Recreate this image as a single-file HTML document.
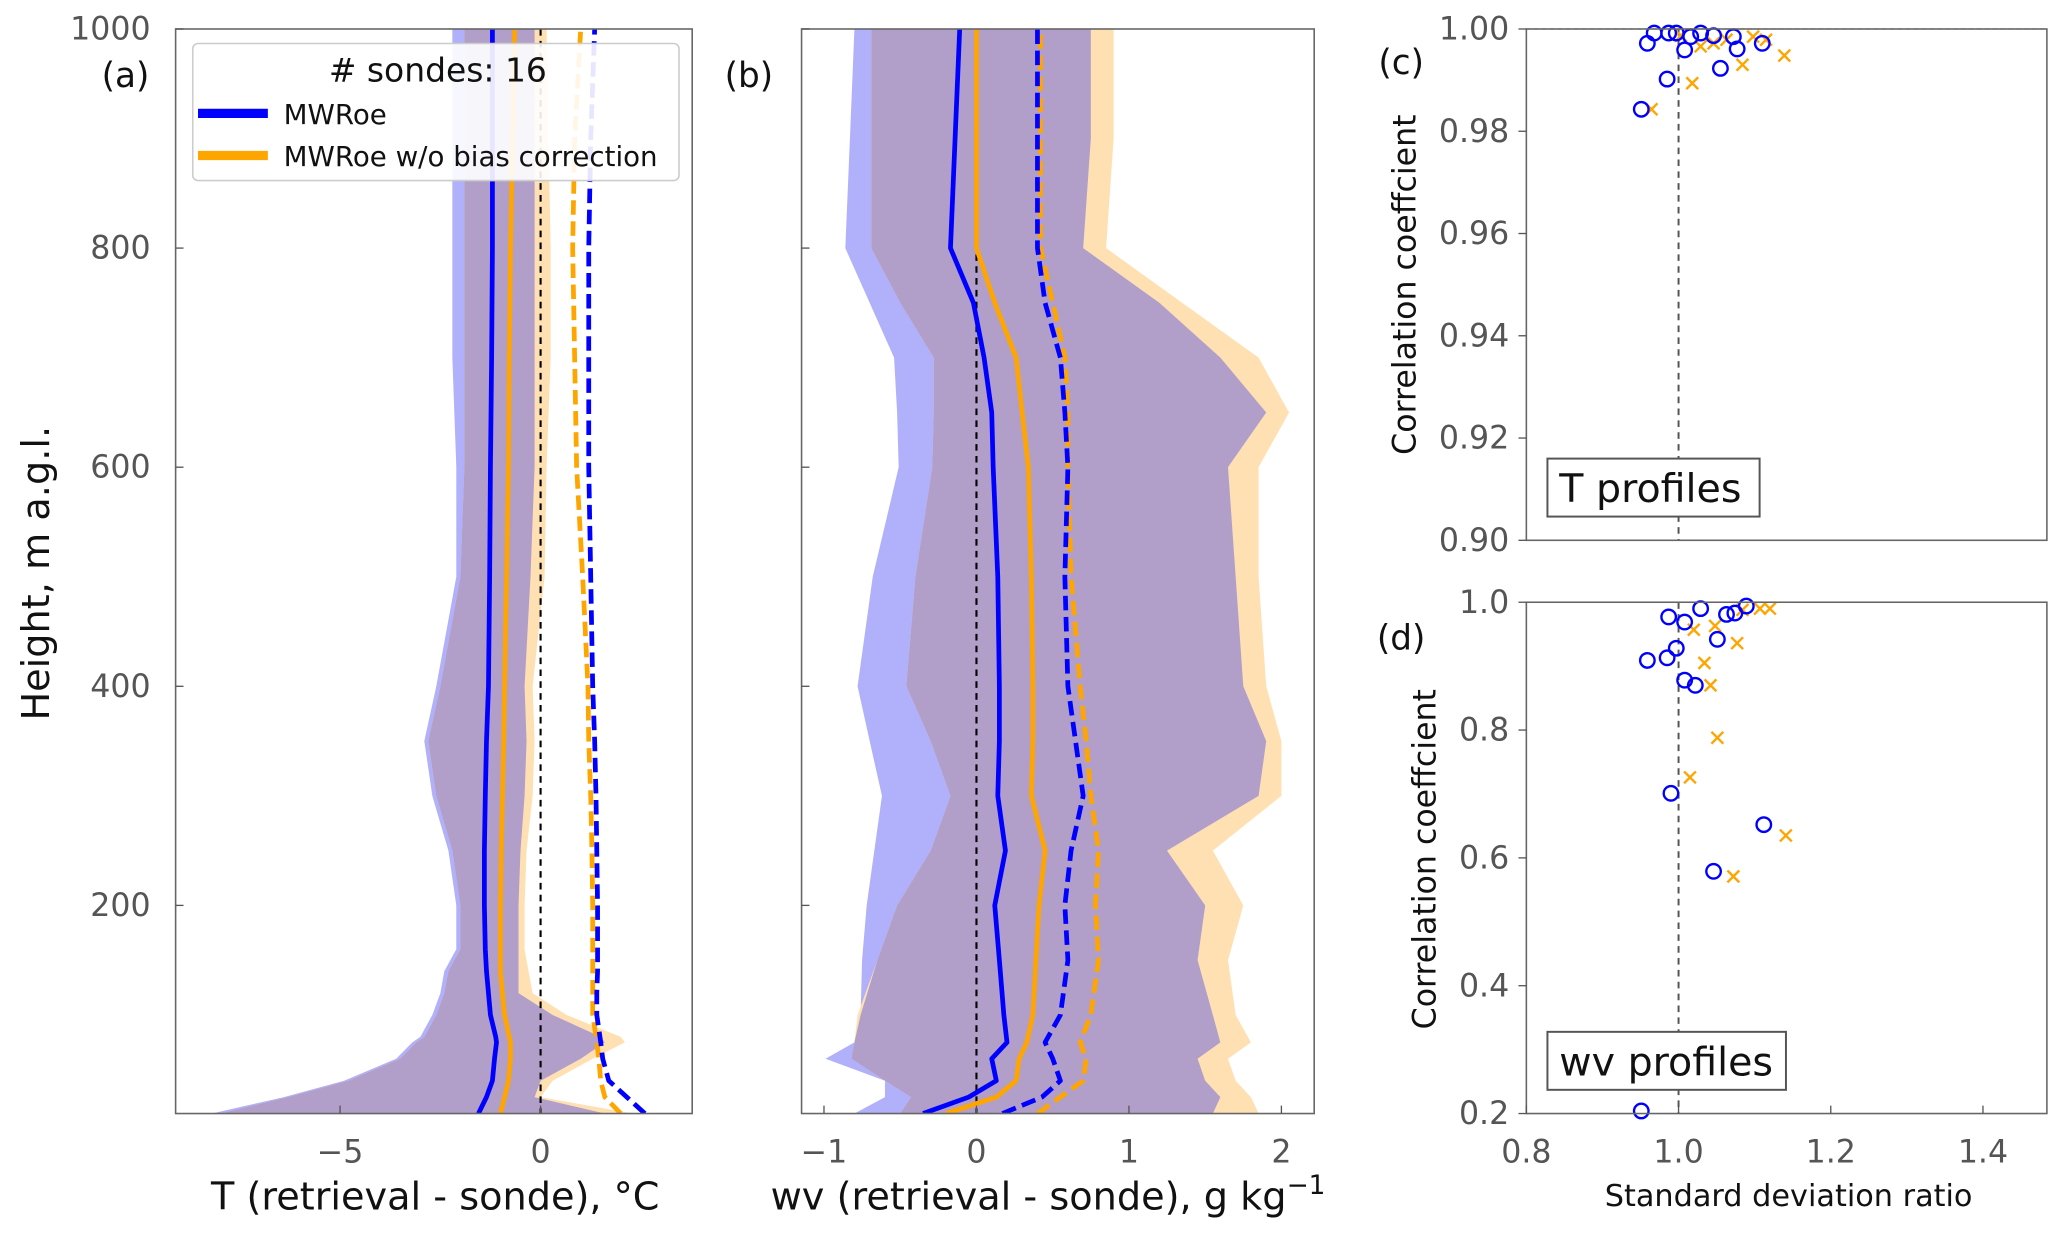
<!DOCTYPE html>
<html><head><meta charset="utf-8"><style>
html,body{margin:0;padding:0;background:#fff;}
svg{display:block;font-family:"DejaVu Sans","Liberation Sans",sans-serif;}
</style></head><body>
<svg id="fig" width="2067" height="1244" viewBox="0 0 1568 944" xmlns="http://www.w3.org/2000/svg"></svg>
<script>
// ---------- Panel (a) data ----------
const aHeights = [10,25,40,60,75,80,100,120,140,160,200,250,300,350,400,500,600,700,800,900,1000];
const aBlueMean = [-1.55,-1.35,-1.2,-1.15,-1.1,-1.12,-1.25,-1.3,-1.35,-1.38,-1.4,-1.4,-1.38,-1.35,-1.3,-1.27,-1.25,-1.22,-1.2,-1.2,-1.2];
const aOrangeMean = [-1.0,-0.9,-0.8,-0.75,-0.75,-0.78,-0.9,-0.95,-1.0,-1.0,-1.0,-0.98,-0.95,-0.92,-0.9,-0.85,-0.8,-0.78,-0.75,-0.7,-0.65];
const aBlueDash = [2.6,2.15,1.7,1.55,1.5,1.48,1.4,1.4,1.42,1.42,1.42,1.4,1.38,1.35,1.3,1.25,1.2,1.2,1.2,1.25,1.35];
const aOrangeDash = [2.0,1.6,1.5,1.45,1.4,1.38,1.3,1.3,1.3,1.3,1.3,1.28,1.25,1.2,1.18,1.05,0.9,0.85,0.8,0.85,1.0];
const aBlueLo = [-8.2,-6.4,-4.9,-3.6,-3.2,-3.0,-2.7,-2.5,-2.4,-2.1,-2.1,-2.3,-2.7,-2.9,-2.6,-2.1,-2.1,-2.2,-2.2,-2.2,-2.2];
const aBlueHi = [1.6,-0.15,0,1.0,1.6,1.5,0.3,-0.55,-0.55,-0.55,-0.55,-0.5,-0.4,-0.35,-0.4,-0.25,-0.15,-0.15,-0.15,-0.15,-0.15];
const aOrangeLo = [-8.0,-6.3,-4.8,-3.5,-3.1,-2.9,-2.6,-2.4,-2.3,-2.0,-2.0,-2.2,-2.6,-2.8,-2.5,-2.0,-1.9,-1.9,-1.9,-1.9,-1.9];
const aOrangeHi = [2.3,0.0,0.3,1.3,2.1,2.0,0.65,-0.2,-0.3,-0.4,-0.4,-0.35,-0.2,-0.15,-0.2,0.1,0.15,0.25,0.25,0.2,0.15];
const aXTicks = [-5,0];
const yTicks = [200,400,600,800,1000];
// ---------- Panel (b) data ----------
const bHeights = [10,25,40,60,75,100,150,200,250,300,350,400,500,600,650,700,750,800,900,1000];
const bBlueMean = [-0.35,-0.05,0.13,0.1,0.2,0.18,0.15,0.12,0.19,0.14,0.15,0.15,0.14,0.11,0.1,0.05,-0.02,-0.17,-0.14,-0.11];
const bOrangeMean = [-0.2,0.13,0.26,0.28,0.33,0.37,0.39,0.41,0.45,0.36,0.37,0.37,0.36,0.34,0.3,0.26,0.12,0.0,0.0,0.0];
const bBlueDash = [0.17,0.43,0.55,0.5,0.45,0.55,0.6,0.58,0.62,0.7,0.65,0.6,0.58,0.6,0.58,0.55,0.45,0.4,0.4,0.4];
const bOrangeDash = [0.4,0.55,0.7,0.72,0.68,0.75,0.8,0.78,0.8,0.75,0.72,0.68,0.62,0.6,0.6,0.58,0.5,0.42,0.42,0.42];
const bBlueLo = [-0.8,-0.6,-0.6,-0.99,-0.8,-0.76,-0.75,-0.72,-0.67,-0.62,-0.7,-0.78,-0.68,-0.51,-0.52,-0.54,-0.7,-0.86,-0.83,-0.8];
const bOrangeLo = [-0.5,-0.43,-0.6,-0.82,-0.8,-0.78,-0.65,-0.52,-0.3,-0.17,-0.3,-0.46,-0.4,-0.29,-0.28,-0.28,-0.5,-0.69,-0.69,-0.69];
const bBlueHi = [1.55,1.6,1.5,1.45,1.6,1.55,1.45,1.5,1.25,1.85,1.9,1.75,1.7,1.65,1.9,1.6,1.2,0.7,0.75,0.75];
const bOrangeHi = [1.85,1.8,1.7,1.65,1.8,1.7,1.65,1.75,1.55,2.0,2.0,1.9,1.85,1.85,2.05,1.85,1.35,0.85,0.9,0.9];
const bXTicks = [-1,0,1,2];
// ---------- Panel (c) data ----------
const cBlueX = [0.959,0.987,0.997,1.008,1.029,1.046,1.072,1.077,1.055,1.110,0.985,0.951,1.016,0.968];
const cBlueY = [0.9972,0.9992,0.9992,0.9959,0.9992,0.9987,0.9985,0.9961,0.9923,0.9972,0.9902,0.9843,0.9985,0.9992];
const cOrangeX = [0.9645,1.018,1.084,1.139,1.029,1.046,1.063,1.098,1.003,1.115];
const cOrangeY = [0.9843,0.9894,0.9930,0.9948,0.9966,0.9972,0.9979,0.9985,0.9987,0.9979];
const cYTicks = [0.90,0.92,0.94,0.96,0.98,1.00];
// ---------- Panel (d) data ----------
const dBlueX = [0.987,1.008,1.029,1.051,0.997,0.959,0.985,1.008,1.022,0.990,1.112,1.046,0.951,1.063,1.074,1.089];
const dBlueY = [0.977,0.969,0.990,0.942,0.928,0.909,0.913,0.878,0.870,0.701,0.652,0.579,0.204,0.981,0.983,0.994];
const dOrangeX = [1.020,1.077,1.034,1.042,1.051,1.015,1.141,1.072,1.084,1.107,1.120,1.048];
const dOrangeY = [0.957,0.936,0.905,0.870,0.788,0.726,0.635,0.571,0.988,0.990,0.990,0.963];
const dYTicks = [0.2,0.4,0.6,0.8,1.0];
const cdXTicks = [0.8,1.0,1.2,1.4];

const NS = "http://www.w3.org/2000/svg";
const svg = document.getElementById('fig');
function el(tag, attrs, parent, text){
  const e = document.createElementNS(NS, tag);
  for (const k in attrs) e.setAttribute(k, attrs[k]);
  if (text !== undefined) e.textContent = text;
  (parent || svg).appendChild(e);
  return e;
}
function lin(d0,d1,r0,r1){ return v => r0 + (v-d0)/(d1-d0)*(r1-r0); }

const TOP = 22, BOT = 845, TICKFS = 24;
const yH = lin(10, 1000, BOT, TOP);

function profilePanel(name, L, R, xmin, xmax, H, blueLo, blueHi, orLo, orHi, bm, om, bd, od, xticks, showYLabels){
  const g = el('g', {});
  
  
  const x = lin(xmin, xmax, L, R);
  const clipId = name + '-clip';
  const cp = el('clipPath', {id: clipId}, g);
  el('rect', {x: L, y: TOP, width: R-L, height: BOT-TOP}, cp);
  const plot = el('g', {'clip-path': 'url(#' + clipId + ')'}, g);
  function band(lo, hi, fill, nm){
    let pts = H.map((h,i)=> x(lo[i]).toFixed(1)+','+yH(h).toFixed(1));
    pts = pts.concat(H.map((h,i)=> x(hi[i]).toFixed(1)+','+yH(h).toFixed(1)).reverse());
    const p = el('polygon', {points: pts.join(' '), fill: fill}, plot);
    
    
  }
  band(blueLo, blueHi, '#b0b0fb', 'mwroe-spread-band');
  band(orLo, orHi, '#fee0b3', 'no-bias-correction-spread-band');
  const ovLo = H.map((h,i)=>Math.max(blueLo[i], orLo[i]));
  const ovHi = H.map((h,i)=>Math.max(Math.max(blueLo[i], orLo[i]), Math.min(blueHi[i], orHi[i])));
  band(ovLo, ovHi, '#b19fca', 'band-overlap');
  el('line', {x1: x(0), x2: x(0), y1: TOP, y2: BOT, stroke: '#000', 'stroke-width': 1.6, 'stroke-dasharray': '5,4'}, plot);
  function line(vals, color, dashed, nm){
    const pts = H.map((h,i)=> x(vals[i]).toFixed(1)+','+yH(h).toFixed(1)).join(' ');
    const p = el('polyline', {points: pts, fill: 'none', stroke: color, 'stroke-width': 3.6, 'stroke-linejoin': 'round'}, plot);
    if (dashed) p.setAttribute('stroke-dasharray', '11,5');
    
    
  }
  line(om, '#ffa500', false, 'no-bias-correction-mean-line');
  line(bm, '#0000ff', false, 'mwroe-mean-line');
  line(od, '#ffa500', true, 'no-bias-correction-std-line');
  line(bd, '#0000ff', true, 'mwroe-std-line');
  el('rect', {x: L, y: TOP, width: R-L, height: BOT-TOP, fill: 'none', stroke: '#666', 'stroke-width': 1.2}, g);
  xticks.forEach(t=>{
    el('line', {x1: x(t), x2: x(t), y1: BOT, y2: BOT-6, stroke: '#555', 'stroke-width': 1}, g);
    const lab = el('text', {x: x(t), y: 882, 'font-size': TICKFS, fill: '#555', 'text-anchor': 'middle'}, g, t < 0 ? '\u2212' + Math.abs(t) : String(t));
    
    
  });
  yTicks.forEach(t=>{
    el('line', {x1: L, x2: L+6, y1: yH(t), y2: yH(t), stroke: '#555', 'stroke-width': 1}, g);
    if (showYLabels) {
      const lab = el('text', {x: L-19, y: yH(t)+8, 'font-size': TICKFS, fill: '#555', 'text-anchor': 'end'}, g, String(t));
      
      
    }
  });
  return x;
}

profilePanel('panel-a-temperature', 133, 525, -9.1, 3.78, aHeights, aBlueLo, aBlueHi, aOrangeLo, aOrangeHi, aBlueMean, aOrangeMean, aBlueDash, aOrangeDash, aXTicks, true);
profilePanel('panel-b-water-vapor', 608, 997, -1.147, 2.215, bHeights, bBlueLo, bBlueHi, bOrangeLo, bOrangeHi, bBlueMean, bOrangeMean, bBlueDash, bOrangeDash, bXTicks, false);

function scatterPanel(name, top, bot, ymin, ymax, bx, by, ox, oy, yticks, dec, boxText, boxW){
  const L = 1158, R = 1553;
  const g = el('g', {});
  
  
  const x = lin(0.8, 1.484, L, R);
  const y = lin(ymin, ymax, bot, top);
  el('line', {x1: x(1), x2: x(1), y1: top, y2: bot, stroke: '#555', 'stroke-width': 1.5, 'stroke-dasharray': '5,4'}, g);
  el('line', {x1: L, x2: R, y1: y(1), y2: y(1), stroke: '#999', 'stroke-width': 1, 'stroke-dasharray': '3,3'}, g);
  const clipId = name + '-clip';
  const cp = el('clipPath', {id: clipId}, g);
  el('rect', {x: L-10, y: top-10, width: R-L+20, height: bot-top+20}, cp);
  const pg = el('g', {'clip-path': 'url(#' + clipId + ')'}, g);
  ox.forEach((v,i)=>{
    const cx = x(v), cy = y(oy[i]), s = 4.5;
    const m = el('path', {d: `M${cx-s},${cy-s}L${cx+s},${cy+s}M${cx-s},${cy+s}L${cx+s},${cy-s}`, stroke: '#ffa500', 'stroke-width': 1.8, fill: 'none'}, pg);
    
    
  });
  bx.forEach((v,i)=>{
    const m = el('circle', {cx: x(v), cy: y(by[i]), r: 5.5, fill: 'none', stroke: '#0000ff', 'stroke-width': 1.8}, pg);
    
    
  });
  el('rect', {x: L, y: top, width: R-L, height: bot-top, fill: 'none', stroke: '#666', 'stroke-width': 1.2}, g);
  yticks.forEach(t=>{
    el('line', {x1: L, x2: L-6, y1: y(t), y2: y(t), stroke: '#555', 'stroke-width': 1}, g);
    const lab = el('text', {x: L-13, y: y(t)+8, 'font-size': TICKFS, fill: '#555', 'text-anchor': 'end'}, g, t.toFixed(dec));
    
    
  });
  el('rect', {x: 1174, y: bot-62, width: boxW, height: 44, fill: '#fff', stroke: '#555', 'stroke-width': 1.5}, g);
  const bt = el('text', {x: 1183, y: bot-29, 'font-size': 30, fill: '#111'}, g, boxText);
  
  
  return x;
}
scatterPanel('panel-c-t-correlation', 22, 410, 0.9, 1.0, cBlueX, cBlueY, cOrangeX, cOrangeY, cYTicks, 2, 'T profiles', 161);
const xcd = scatterPanel('panel-d-wv-correlation', 457, 845, 0.2, 1.0, dBlueX, dBlueY, dOrangeX, dOrangeY, dYTicks, 1, 'wv profiles', 181);
cdXTicks.forEach(t=>{
  el('line', {x1: xcd(t), x2: xcd(t), y1: 845, y2: 839, stroke: '#555', 'stroke-width': 1});
  const lab = el('text', {x: xcd(t), y: 882, 'font-size': TICKFS, fill: '#555', 'text-anchor': 'middle'}, svg, t.toFixed(1));
  
  
});
</script>
<script>
(function(){
  const NS = "http://www.w3.org/2000/svg";
  const svg = document.getElementById('fig');
  function t(x,y,s,txt,name,extra){
    const e = document.createElementNS(NS,'text');
    e.setAttribute('x',x); e.setAttribute('y',y); e.setAttribute('font-size',s); e.setAttribute('fill','#111');
    if (extra) for (const k in extra) e.setAttribute(k, extra[k]);
    e.textContent = txt;
    
    
    svg.appendChild(e); return e;
  }
  t(95,66,26,'(a)','panel-a-label',{'text-anchor':'middle'});
  t(568,66,26,'(b)','panel-b-label',{'text-anchor':'middle'});
  t(1063,56,26,'(c)','panel-c-label',{'text-anchor':'middle'});
  t(1063,493,26,'(d)','panel-d-label',{'text-anchor':'middle'});
  t(37,435,29,'Height, m a.g.l.','y-axis-title',{'text-anchor':'middle',transform:'rotate(-90 37 435)'});
  t(330,918,29,'T (retrieval - sonde), \u00b0C','x-axis-title-a',{'text-anchor':'middle'});
  const xb = t(795,918,29,'wv (retrieval - sonde), g kg','x-axis-title-b',{'text-anchor':'middle'});
  const sup = document.createElementNS(NS,'tspan');
  sup.setAttribute('dy','-12'); sup.setAttribute('font-size','20'); sup.textContent='\u22121';
  xb.appendChild(sup);
  t(1074,216,24,'Correlation coeffcient','y-axis-title-c',{'text-anchor':'middle',transform:'rotate(-90 1074 216)'});
  t(1089,652,24,'Correlation coeffcient','y-axis-title-d',{'text-anchor':'middle',transform:'rotate(-90 1089 652)'});
  t(1357,915,23,'Standard deviation ratio','x-axis-title-cd',{'text-anchor':'middle'});
  const lg = document.createElementNS(NS,'g');
   
  svg.appendChild(lg);
  const r = document.createElementNS(NS,'rect');
  r.setAttribute('x',146); r.setAttribute('y',33); r.setAttribute('width',369); r.setAttribute('height',104);
  r.setAttribute('rx',4); r.setAttribute('fill','#fff'); r.setAttribute('fill-opacity','0.9'); r.setAttribute('stroke','#ccc'); r.setAttribute('stroke-width',1.2);
  lg.appendChild(r);
  function lt(x,y,s,txt,name,anchor){
    const e = document.createElementNS(NS,'text');
    e.setAttribute('x',x); e.setAttribute('y',y); e.setAttribute('font-size',s); e.setAttribute('fill','#111');
    if (anchor) e.setAttribute('text-anchor',anchor);
    e.textContent = txt;
     
    lg.appendChild(e);
  }
  lt(332,62,25,'# sondes: 16','legend-title','middle');
  [['#0000ff',86,'MWRoe','legend-entry-mwroe'],['#ffa500',118,'MWRoe w/o bias correction','legend-entry-no-bias-correction']].forEach(a=>{
    const l = document.createElementNS(NS,'line');
    l.setAttribute('x1',150); l.setAttribute('x2',203); l.setAttribute('y1',a[1]); l.setAttribute('y2',a[1]);
    l.setAttribute('stroke',a[0]); l.setAttribute('stroke-width',7);
    lg.appendChild(l);
    lt(215,a[1]+8,21,a[2],a[3]);
  });
})();
</script>
</body></html>
